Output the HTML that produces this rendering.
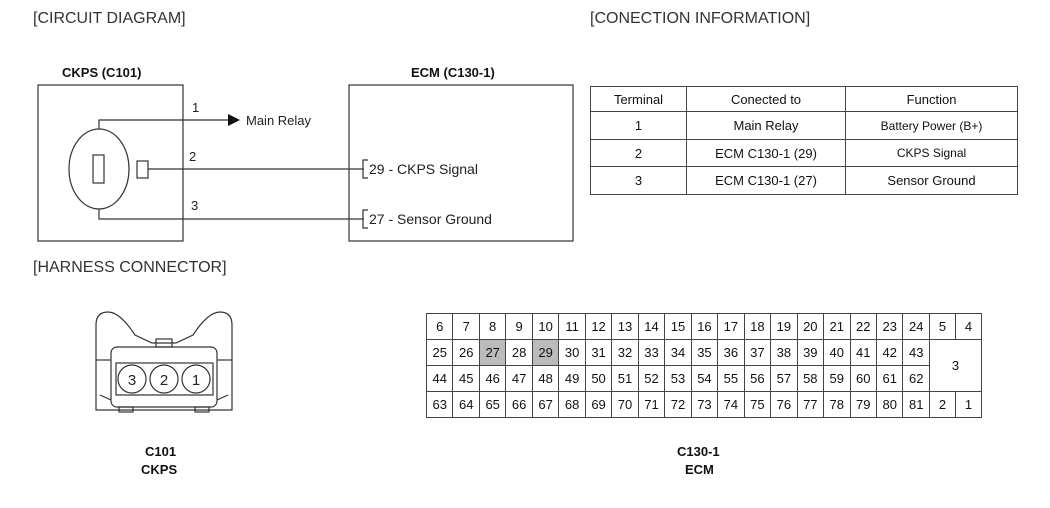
<!DOCTYPE html>
<html><head><style>
body{margin:0;width:1050px;height:508px;background:#fff;font-family:"Liberation Sans",Arial,sans-serif;position:relative;overflow:hidden;color:#111}
.t{position:absolute;white-space:nowrap}
.h{font-size:16px;color:#333}
.b{font-weight:bold;font-size:13px}
table{border-collapse:collapse;position:absolute}
td{border:1px solid #444;text-align:center;padding:0;font-size:13px}
</style></head><body>
<div class="t h" style="left:33px;top:10px">[CIRCUIT DIAGRAM]</div>
<div class="t h" style="left:590px;top:10px">[CONECTION INFORMATION]</div>
<div class="t h" style="left:33px;top:259px">[HARNESS CONNECTOR]</div>
<div class="t b" style="left:62px;top:65px">CKPS (C101)</div>
<div class="t b" style="left:411px;top:65px">ECM (C130-1)</div>
<svg width="1050" height="508" style="position:absolute;left:0;top:0" font-family="Liberation Sans, Arial, sans-serif">
<g stroke="#333" fill="none" stroke-width="1.2">
<rect x="38" y="85" width="145" height="156"/>
<rect x="349" y="85" width="224" height="156"/>
<ellipse cx="99" cy="169" rx="30" ry="40"/>
<rect x="93" y="155" width="11" height="28"/>
<rect x="137" y="161" width="11" height="17"/>
<polyline points="99,129 99,120 228,120"/>
<line x1="148" y1="169" x2="364" y2="169"/>
<polyline points="99,209 99,219 364,219"/>
<polyline points="368,160 363,160 363,178 368,178"/>
<polyline points="368,210 363,210 363,228 368,228"/>
</g>
<polygon points="228,114 240,120 228,126" fill="#111"/>
<g font-size="13" fill="#222">
<text x="192" y="112">1</text><text x="189" y="161">2</text><text x="191" y="210">3</text>
<text x="246" y="125">Main Relay</text>
<text x="369" y="174" font-size="14">29 - CKPS Signal</text>
<text x="369" y="224" font-size="14">27 - Sensor Ground</text>
</g>
<!-- harness connector -->
<g stroke="#333" fill="none" stroke-width="1.2">
<path d="M96,410 L96,325 Q96,312 108,312 Q120,312 135,335 L152,343 L176,343 L193,335 Q208,312 220,312 Q232,312 232,325 L232,410 Z"/>
<rect x="111" y="347" width="106" height="60" rx="6"/>
<rect x="156" y="339" width="16" height="8"/>
<rect x="119" y="407" width="14" height="5"/><rect x="195" y="407" width="14" height="5"/>
<line x1="96" y1="360" x2="111" y2="360"/><line x1="217" y1="360" x2="232" y2="360"/>
<path d="M100,395 L111,400 M228,395 L217,400"/>
<rect x="116" y="363" width="97" height="32"/>
<circle cx="132" cy="379" r="14"/><circle cx="164" cy="379" r="14"/><circle cx="196" cy="379" r="14"/>
</g>
<g font-size="15" fill="#222" text-anchor="middle">
<text x="132" y="385">3</text><text x="164" y="385">2</text><text x="196" y="385">1</text>
</g>
</svg>
<table style="left:590px;top:86px;width:428px">
<tr style="height:25px"><td style="width:95px">Terminal</td><td style="width:158px">Conected to</td><td>Function</td></tr>
<tr style="height:28px"><td>1</td><td>Main Relay</td><td style="font-size:12px">Battery Power (B+)</td></tr>
<tr style="height:27px"><td>2</td><td>ECM C130-1 (29)</td><td style="font-size:12px">CKPS Signal</td></tr>
<tr style="height:28px"><td>3</td><td>ECM C130-1 (27)</td><td>Sensor Ground</td></tr>
</table>
<table style="left:426px;top:313px;width:556px;font-size:13px" id="g">
<tr style="height:26px"><td>6</td><td>7</td><td>8</td><td>9</td><td>10</td><td>11</td><td>12</td><td>13</td><td>14</td><td>15</td><td>16</td><td>17</td><td>18</td><td>19</td><td>20</td><td>21</td><td>22</td><td>23</td><td>24</td><td style="width:25px">5</td><td style="width:25px">4</td></tr>
<tr style="height:26px"><td>25</td><td>26</td><td style="background:#bbb">27</td><td>28</td><td style="background:#bbb">29</td><td>30</td><td>31</td><td>32</td><td>33</td><td>34</td><td>35</td><td>36</td><td>37</td><td>38</td><td>39</td><td>40</td><td>41</td><td>42</td><td>43</td><td colspan="2" rowspan="2">3</td></tr>
<tr style="height:26px"><td>44</td><td>45</td><td>46</td><td>47</td><td>48</td><td>49</td><td>50</td><td>51</td><td>52</td><td>53</td><td>54</td><td>55</td><td>56</td><td>57</td><td>58</td><td>59</td><td>60</td><td>61</td><td>62</td></tr>
<tr style="height:26px"><td>63</td><td>64</td><td>65</td><td>66</td><td>67</td><td>68</td><td>69</td><td>70</td><td>71</td><td>72</td><td>73</td><td>74</td><td>75</td><td>76</td><td>77</td><td>78</td><td>79</td><td>80</td><td>81</td><td>2</td><td>1</td></tr>
</table>
<div class="t b" style="left:145px;top:444px">C101</div>
<div class="t b" style="left:141px;top:462px">CKPS</div>
<div class="t b" style="left:677px;top:444px">C130-1</div>
<div class="t b" style="left:685px;top:462px">ECM</div>
</body></html>
